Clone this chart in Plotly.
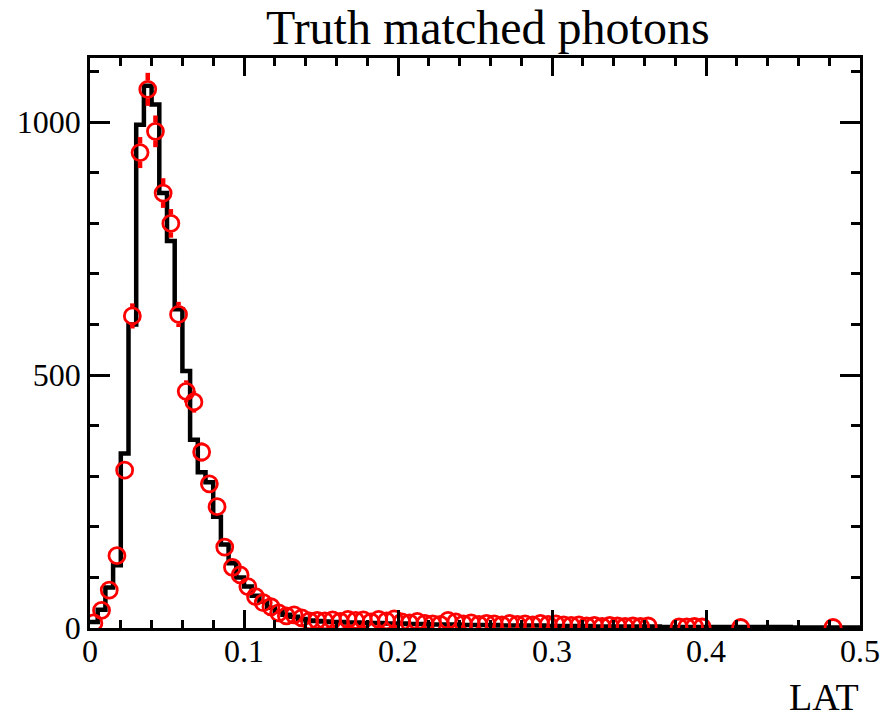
import numpy as np
import plotly.graph_objects as go

# ---------------- data ----------------
bin_width = 0.005
bin_edges = [round(i * bin_width, 4) for i in range(101)]

# black histogram (reference)
hist_counts = [
    12, 36, 80, 124, 345, 600, 995, 1072, 1035, 860,
    765, 630, 508, 372, 308, 288, 220, 165, 128, 100,
    82, 64, 52, 40, 33, 26, 22, 18, 15, 14,
    13, 12, 12, 11, 11, 10, 10, 10, 9, 9,
    9, 8, 8, 8, 7, 7, 7, 7, 6, 6,
    6, 6, 6, 5, 5, 5, 5, 5, 5, 4,
    4, 4, 4, 4, 4, 3, 3, 3, 3, 3,
    3, 3, 3, 3, 2, 2, 2, 2, 2, 2,
    2, 2, 2, 2, 2, 2, 2, 2, 2, 2,
    2, 1, 1, 1, 1, 1, 1, 1, 1, 1,
]

# red points (truth matched), 0 = empty bin (not drawn)
point_counts = [
    10, 35, 75, 143, 312, 617, 940, 1065, 982, 860,
    800, 620, 468, 447, 348, 285, 240, 160, 120, 105,
    82, 62, 50, 42, 30, 24, 26, 20, 14, 15,
    14, 16, 13, 17, 15, 16, 12, 17, 14, 18,
    12, 10, 13, 9, 8, 7, 15, 12, 8, 10,
    7, 9, 8, 6, 9, 7, 8, 6, 9, 7,
    8, 6, 5, 6, 4, 5, 3, 5, 4, 3,
    4, 3, 4, 0, 0, 0, 2, 2, 3, 2,
    0, 0, 0, 0, 1, 0, 0, 0, 0, 0,
    0, 0, 0, 0, 0, 0, 1, 0, 0, 0,
]

x_tick_vals = [0, 0.1, 0.2, 0.3, 0.4, 0.5]
x_tick_text = ["0", "0.1", "0.2", "0.3", "0.4", "0.5"]
y_tick_vals = [0, 500, 1000]
y_tick_text = ["0", "500", "1000"]

title_text = "Truth matched photons"
x_title = "LAT"

# ---------------- figure ----------------
W, H = 892, 719
ML, MR, MT, MB = 90, 25, 58, 91
y_max = 1127
plot_h = H - MT - MB
marker_d = 16
r_data = (marker_d / 2 + 1) * y_max / plot_h

edges = np.array(bin_edges)
centers = (edges[:-1] + edges[1:]) / 2
hc = np.array(hist_counts, dtype=float)
pc = np.array(point_counts, dtype=float)
perr = np.sqrt(pc)

fig = go.Figure()

# histogram step line
fig.add_trace(go.Scatter(
    x=edges, y=np.append(hc, hc[-1]),
    mode="lines", line=dict(color="black", width=4.5, shape="hv"),
    hoverinfo="skip", showlegend=False,
))

# error bars drawn outside the open markers
ex, ey = [], []
mask = pc > 0
for xc, v, e in zip(centers[mask], pc[mask], perr[mask]):
    if e > r_data:
        ex += [xc, xc, None, xc, xc, None]
        ey += [v + r_data, v + e, None, v - r_data, v - e, None]
fig.add_trace(go.Scatter(
    x=ex, y=ey, mode="lines", line=dict(color="red", width=4.5),
    hoverinfo="skip", showlegend=False,
))

fig.add_trace(go.Scatter(
    x=centers[mask], y=pc[mask], mode="markers",
    marker=dict(symbol="circle-open", size=marker_d, color="red",
                line=dict(color="red", width=2.8)),
    showlegend=False,
))

font_family = "Liberation Serif, Times New Roman, serif"
axis_common = dict(
    showline=True, linecolor="black", linewidth=2.5, mirror="ticks",
    ticks="inside", tickcolor="black", tickwidth=2.5,
    showgrid=False, zeroline=False,
    tickfont=dict(family=font_family, size=32, color="black"),
)

fig.update_xaxes(
    range=[0, 0.5], tickvals=x_tick_vals, ticktext=x_tick_text, ticklen=18,
    ticklabelstandoff=-7,
    minor=dict(dtick=0.02, tick0=0, ticks="inside", ticklen=8,
               tickwidth=2.5, tickcolor="black", showgrid=False),
    **axis_common,
)
fig.update_yaxes(
    range=[0, y_max], tickvals=y_tick_vals, ticktext=y_tick_text, ticklen=20,
    minor=dict(dtick=100, tick0=0, ticks="inside", ticklen=9,
               tickwidth=2.5, tickcolor="black", showgrid=False),
    **axis_common,
)

fig.add_annotation(
    text=title_text, xref="paper", yref="paper", x=0.517, y=1,
    xanchor="center", yanchor="bottom", yshift=2, showarrow=False,
    font=dict(family=font_family, size=48, color="black"),
)
fig.add_annotation(
    text=x_title, xref="paper", yref="paper", x=1, y=0,
    xanchor="right", yanchor="top", xshift=1, yshift=-46, showarrow=False,
    font=dict(family=font_family, size=38, color="black"),
)

fig.update_layout(
    width=W, height=H,
    margin=dict(l=ML, r=MR, t=MT, b=MB),
    paper_bgcolor="white", plot_bgcolor="white",
    font=dict(family=font_family, color="black"),
    showlegend=False,
)

fig.write_html("out.html")
